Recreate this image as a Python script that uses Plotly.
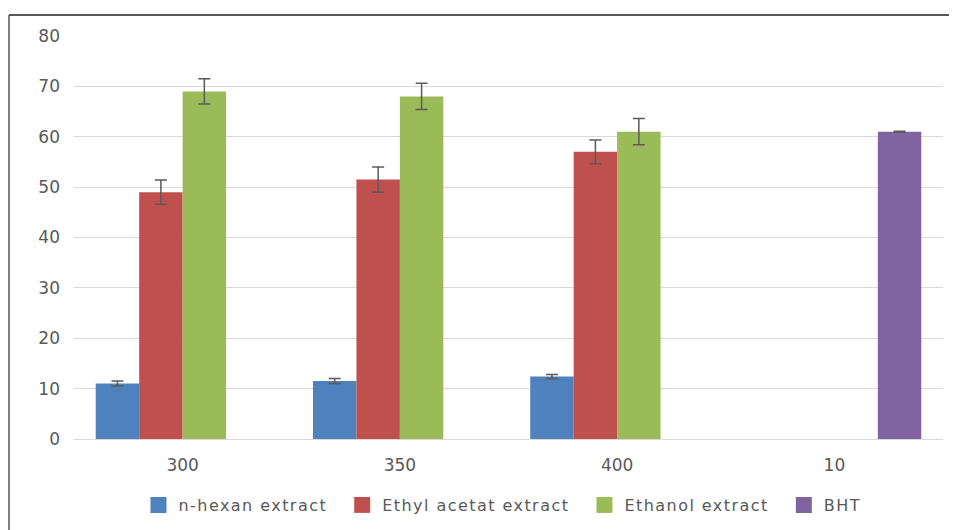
import plotly.graph_objects as go

categories = ["300", "350", "400", "10"]
hexan = [11.0, 11.5, 12.4, None]
hexan_err = [0.5, 0.5, 0.4, 0]
ethyl = [49.0, 51.5, 57.0, None]
ethyl_err = [2.4, 2.5, 2.35, 0]
ethanol = [69.0, 68.0, 61.0, None]
ethanol_err = [2.5, 2.6, 2.6, 0]
bht = [None, None, None, 61.0]
bht_err = [0, 0, 0, 0.1]
y_ticks = [0, 10, 20, 30, 40, 50, 60, 70, 80]

series = [
    ("n-hexan extract", hexan, hexan_err, "#4f81bd"),
    ("Ethyl acetat extract", ethyl, ethyl_err, "#c0504d"),
    ("Ethanol extract", ethanol, ethanol_err, "#9bbb59"),
    ("BHT", bht, bht_err, "#8064a2"),
]

fig = go.Figure()
for name, vals, errs, color in series:
    fig.add_trace(go.Bar(
        x=categories, y=vals, name=name, legendgroup=name, showlegend=False,
        marker=dict(color=color, line=dict(width=0)),
        error_y=dict(type="data", array=errs, visible=True,
                     color="#5a5a5a", thickness=1.5, width=6),
    ))
for name, vals, errs, color in series:
    label = (f'<span style="letter-spacing:1.45px">{name}</span>'
             f'<span style="letter-spacing:5px">&nbsp;</span>')
    fig.add_trace(go.Scatter(
        x=[None], y=[None], name=label, legendgroup=name, mode="markers",
        marker=dict(symbol="square", size=16, color=color),
    ))

# page has an 8px body margin; figure is sized/margined to compensate
fig.update_layout(
    width=949, height=522,
    margin=dict(l=66, r=14, t=28, b=91),
    paper_bgcolor="white", plot_bgcolor="white",
    barmode="group", bargap=0.2, bargroupgap=0,
    font=dict(family="DejaVu Sans, sans-serif", size=15, color="#595959"),
    showlegend=True,
    legend=dict(orientation="h", x=0.0742, xanchor="left",
                yref="container", y=0.0479, yanchor="middle",
                font=dict(size=16, color="#595959"), traceorder="normal",
                itemwidth=30),
    xaxis=dict(showgrid=False, showline=False, ticks="", tickfont=dict(size=17),
               ticklabelstandoff=14),
    yaxis=dict(range=[0, 80], tickvals=y_ticks, showgrid=True, gridcolor="#d9d9d9",
               gridwidth=1, zeroline=True, zerolinecolor="#d9d9d9", zerolinewidth=1,
               showline=False, ticks="", ticklabelstandoff=13, tickfont=dict(size=17)),
    shapes=[
        dict(type="line", xref="paper", yref="paper", x0=-0.0748, x1=1.02, y0=1.052, y1=1.052,
             line=dict(color="#222222", width=1.5)),
        dict(type="line", xref="paper", yref="paper", x0=-0.0748, x1=-0.0748, y0=1.052, y1=-0.25,
             line=dict(color="#555555", width=1.5)),
    ],
)

fig.write_html("out.html")
